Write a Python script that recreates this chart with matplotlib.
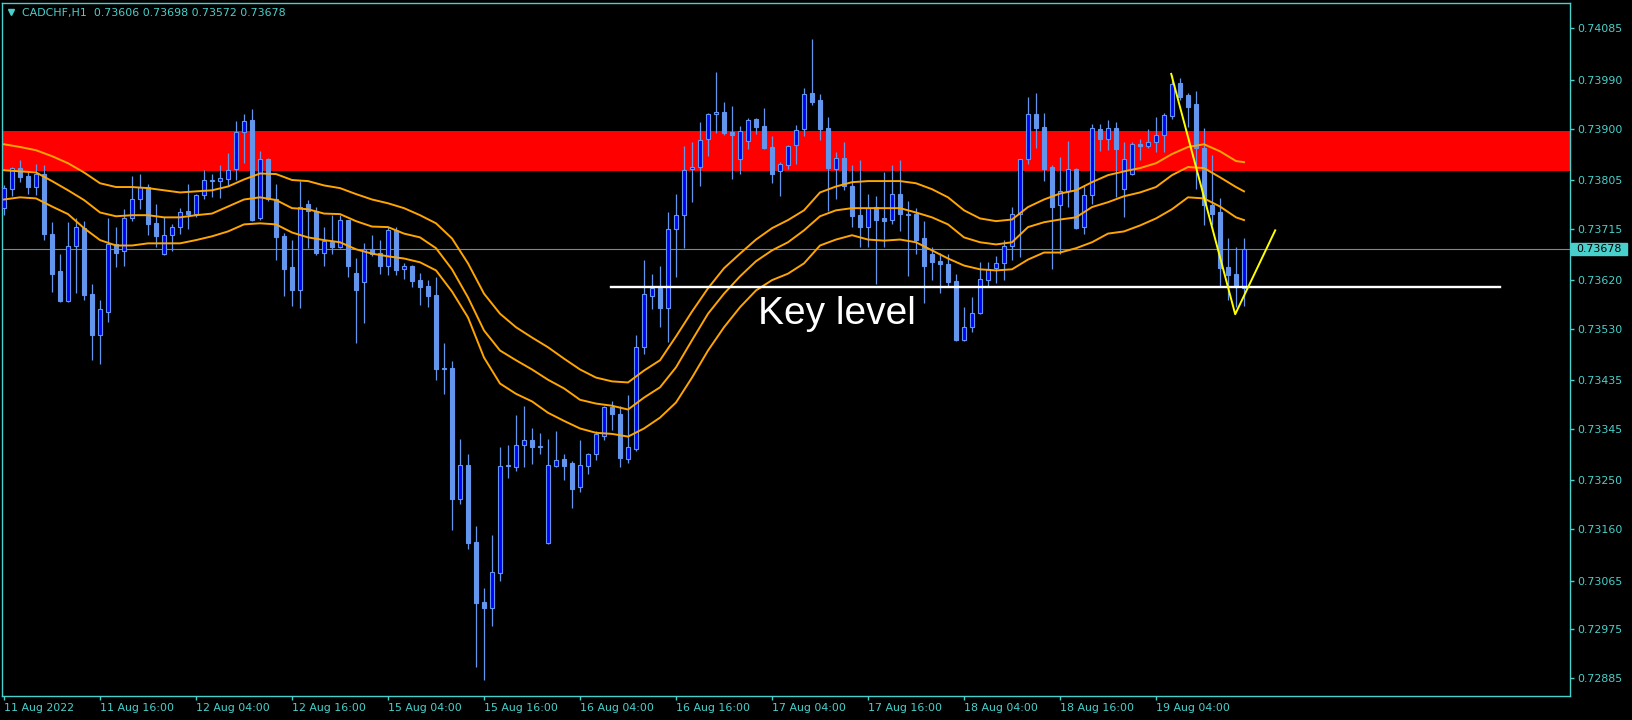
import numpy as np
import matplotlib
matplotlib.use("Agg")
import matplotlib.pyplot as plt
from matplotlib.lines import Line2D
from matplotlib.patches import Rectangle
import matplotlib.transforms as mtransforms

# CADCHF H1, prices in 1e-5 units
opens = np.array([
    73753, 73788, 73827, 73812, 73792, 73816, 73705, 73636, 73581, 73684,
    73716, 73594, 73518, 73562, 73686, 73673, 73734, 73769, 73792, 73725,
    73668, 73703, 73718, 73747, 73742, 73777, 73805, 73803, 73806, 73825,
    73893, 73916, 73734, 73843, 73769, 73701, 73644, 73601, 73760, 73747,
    73671, 73690, 73682, 73731, 73634, 73616, 73677, 73671, 73647, 73712,
    73640, 73647, 73620, 73610, 73592, 73457, 73457, 73216, 73279, 73137,
    73026, 73015, 73079, 73277, 73275, 73316, 73325, 73311, 73135, 73277,
    73290, 73283, 73237, 73277, 73298, 73333, 73386, 73373, 73290, 73309,
    73496, 73590, 73605, 73568, 73714, 73740, 73825, 73829, 73880, 73927,
    73930, 73893, 73843, 73877, 73917, 73904, 73866, 73821, 73832, 73869,
    73899, 73965, 73953, 73901, 73825, 73845, 73793, 73740, 73719, 73756,
    73734, 73732, 73779, 73743, 73742, 73697, 73668, 73655, 73649, 73618,
    73510, 73533, 73560, 73621, 73642, 73651, 73684, 73743, 73843, 73927,
    73903, 73829, 73758, 73784, 73825, 73719, 73777, 73899, 73880, 73901,
    73788, 73816, 73871, 73867, 73875, 73888, 73923, 73984, 73962, 73945,
    73864, 73758, 73745, 73644, 73631, 73606]) * 1e-5

highs = np.array([
    73795, 73829, 73842, 73819, 73834, 73832, 73727, 73669, 73727, 73734,
    73729, 73612, 73584, 73734, 73718, 73751, 73812, 73817, 73797, 73760,
    73736, 73723, 73753, 73797, 73779, 73823, 73816, 73832, 73854, 73914,
    73927, 73936, 73858, 73845, 73797, 73708, 73695, 73803, 73768, 73756,
    73719, 73740, 73740, 73732, 73660, 73688, 73703, 73694, 73719, 73718,
    73651, 73648, 73634, 73620, 73625, 73503, 73470, 73327, 73299, 73166,
    73052, 73150, 73312, 73316, 73370, 73388, 73346, 73338, 73327, 73342,
    73298, 73285, 73325, 73301, 73342, 73387, 73396, 73388, 73407, 73518,
    73658, 73632, 73647, 73745, 73780, 73867, 73875, 73912, 73928, 74004,
    73949, 73941, 73904, 73919, 73919, 73938, 73886, 73838, 73869, 73906,
    73975, 74065, 73964, 73921, 73856, 73875, 73832, 73842, 73780, 73775,
    73819, 73832, 73842, 73766, 73753, 73729, 73682, 73671, 73668, 73631,
    73570, 73588, 73653, 73653, 73664, 73695, 73756, 73844, 73958, 73965,
    73928, 73832, 73847, 73877, 73827, 73795, 73908, 73908, 73916, 73912,
    73875, 73875, 73880, 73899, 73921, 73928, 73999, 73993, 73965, 73969,
    73901, 73851, 73771, 73697, 73682, 73698]) * 1e-5

lows = np.array([
    73740, 73775, 73801, 73779, 73777, 73695, 73599, 73579, 73579, 73597,
    73584, 73473, 73466, 73542, 73645, 73647, 73729, 73751, 73703, 73681,
    73666, 73673, 73706, 73714, 73736, 73769, 73773, 73771, 73793, 73805,
    73836, 73729, 73731, 73767, 73658, 73590, 73573, 73568, 73679, 73666,
    73647, 73668, 73680, 73625, 73503, 73540, 73664, 73632, 73629, 73629,
    73623, 73608, 73575, 73570, 73435, 73409, 73159, 73207, 73124, 72905,
    72881, 72981, 73065, 73255, 73268, 73275, 73281, 73298, 73133, 73274,
    73250, 73200, 73229, 73262, 73288, 73324, 73344, 73275, 73283, 73305,
    73484, 73566, 73534, 73505, 73625, 73679, 73764, 73793, 73849, 73891,
    73888, 73806, 73817, 73862, 73890, 73862, 73799, 73775, 73825, 73834,
    73886, 73943, 73878, 73747, 73769, 73786, 73718, 73681, 73682, 73612,
    73682, 73723, 73710, 73627, 73668, 73577, 73621, 73597, 73607, 73507,
    73507, 73525, 73558, 73610, 73614, 73620, 73658, 73662, 73834, 73864,
    73803, 73640, 73669, 73756, 73714, 73705, 73760, 73858, 73860, 73773,
    73736, 73814, 73842, 73864, 73856, 73856, 73917, 73953, 73903, 73788,
    73721, 73721, 73607, 73584, 73570, 73572]) * 1e-5

closes = np.array([
    73790, 73827, 73810, 73792, 73816, 73706, 73632, 73581, 73684, 73718,
    73592, 73518, 73566, 73686, 73671, 73734, 73769, 73792, 73723, 73701,
    73703, 73718, 73745, 73743, 73777, 73805, 73803, 73808, 73823, 73893,
    73914, 73731, 73843, 73769, 73699, 73640, 73601, 73756, 73747, 73671,
    73692, 73681, 73732, 73647, 73601, 73677, 73669, 73647, 73712, 73638,
    73647, 73618, 73608, 73590, 73455, 73455, 73216, 73279, 73135, 73024,
    73015, 73081, 73277, 73278, 73316, 73325, 73312, 73314, 73279, 73288,
    73277, 73235, 73279, 73299, 73335, 73386, 73372, 73292, 73311, 73496,
    73594, 73605, 73568, 73714, 73740, 73823, 73829, 73878, 73927, 73930,
    73891, 73888, 73895, 73916, 73903, 73864, 73817, 73834, 73867, 73897,
    73964, 73949, 73899, 73827, 73845, 73793, 73738, 73719, 73753, 73732,
    73730, 73779, 73742, 73740, 73695, 73647, 73653, 73649, 73616, 73510,
    73534, 73560, 73623, 73640, 73651, 73684, 73743, 73843, 73927, 73901,
    73825, 73756, 73784, 73825, 73716, 73777, 73901, 73880, 73901, 73862,
    73843, 73871, 73867, 73875, 73888, 73925, 73982, 73958, 73940, 73864,
    73758, 73742, 73642, 73629, 73607, 73678]) * 1e-5

# moving average band read every second bar (last point = last bar)
ma_bars = np.r_[np.arange(0, 156, 2), 155]
ma_upper = np.array([
    73871, 73866, 73860, 73849, 73836, 73819, 73799, 73792, 73792, 73790,
    73786, 73782, 73784, 73786, 73793, 73806, 73817, 73816, 73805, 73803,
    73795, 73790, 73779, 73769, 73762, 73753, 73740, 73725, 73697, 73651,
    73595, 73558, 73533, 73514, 73496, 73475, 73455, 73440, 73433, 73431,
    73453, 73472, 73516, 73562, 73605, 73642, 73669, 73695, 73716, 73731,
    73749, 73782, 73793, 73801, 73803, 73803, 73803, 73799, 73788, 73773,
    73749, 73734, 73729, 73732, 73755, 73769, 73780, 73786, 73801, 73814,
    73821, 73827, 73836, 73853, 73866, 73871, 73858, 73840, 73838]) * 1e-5
ma_mid = np.array([
    73823, 73821, 73819, 73803, 73786, 73768, 73745, 73738, 73740, 73740,
    73736, 73736, 73740, 73743, 73756, 73769, 73773, 73768, 73753, 73751,
    73743, 73742, 73729, 73719, 73718, 73706, 73699, 73679, 73640, 73588,
    73527, 73490, 73472, 73455, 73436, 73420, 73399, 73392, 73388, 73381,
    73403, 73422, 73459, 73509, 73558, 73595, 73627, 73655, 73675, 73690,
    73712, 73738, 73749, 73753, 73753, 73753, 73753, 73745, 73736, 73723,
    73699, 73690, 73686, 73690, 73718, 73727, 73732, 73736, 73755, 73764,
    73775, 73782, 73792, 73814, 73829, 73827, 73810, 73792, 73784]) * 1e-5
ma_lower = np.array([
    73769, 73773, 73771, 73756, 73742, 73716, 73694, 73684, 73684, 73688,
    73688, 73688, 73694, 73701, 73710, 73723, 73725, 73723, 73708, 73699,
    73694, 73690, 73677, 73669, 73664, 73660, 73653, 73638, 73599, 73551,
    73477, 73429, 73410, 73396, 73375, 73360, 73346, 73338, 73336, 73331,
    73346, 73366, 73394, 73440, 73490, 73533, 73570, 73601, 73620, 73632,
    73651, 73684, 73695, 73703, 73695, 73693, 73695, 73690, 73675, 73660,
    73647, 73640, 73638, 73640, 73658, 73671, 73671, 73679, 73690, 73706,
    73710, 73721, 73734, 73751, 73773, 73771, 73756, 73736, 73731]) * 1e-5

zone_low, zone_high = 0.73822, 0.73895
key_level = 0.73607
key_level_bars = [75.9, 187]
zigzag_bars = [145.9, 153.9, 158.9]
zigzag_prices = [0.74001, 0.73557, 0.73712]
last_price = 0.73678

price_ticks = [0.74085, 0.73990, 0.73900, 0.73805, 0.73715, 0.73620, 0.73530,
               0.73435, 0.73345, 0.73250, 0.73160, 0.73065, 0.72975, 0.72885]
time_ticks = [0, 12, 24, 36, 48, 60, 72, 84, 96, 108, 120, 132, 144]
time_labels = ['11 Aug 2022', '11 Aug 16:00', '12 Aug 04:00', '12 Aug 16:00',
               '15 Aug 04:00', '15 Aug 16:00', '16 Aug 04:00', '16 Aug 16:00',
               '17 Aug 04:00', '17 Aug 16:00', '18 Aug 04:00', '18 Aug 16:00',
               '19 Aug 04:00']

fg = '#48D1CC'
wick_col = '#6495ED'
bull_col = '#0000FF'

fig = plt.figure(figsize=(16.33, 7.2), dpi=100, facecolor='black')
ax = fig.add_axes([2.5 / 1633, 1 - 696 / 720, (1570 - 2.5) / 1633, (696 - 2.5) / 720])
ax.set_facecolor('black')

x = np.arange(len(opens))

# resistance zone and current price line
ax.axhspan(zone_low, zone_high, color='#FF0000', lw=0, zorder=0.5)
ax.axhline(last_price, color='#778899', lw=0.8, zorder=1)

# candles
ax.vlines(x, lows, highs, color=wick_col, lw=0.9, zorder=2)
bull = closes >= opens
body_bot = np.minimum(opens, closes)
body_h = np.abs(closes - opens)
ax.bar(x[bull], body_h[bull], bottom=body_bot[bull], width=0.55,
       color=bull_col, edgecolor=wick_col, lw=0.8, zorder=3)
ax.bar(x[~bull], body_h[~bull], bottom=body_bot[~bull], width=0.55,
       color=wick_col, edgecolor=wick_col, lw=0.8, zorder=3)

# moving average band
for line in (ma_upper, ma_mid, ma_lower):
    ax.plot(ma_bars, line, color='#FFA500', lw=1.4, zorder=4)

# annotations
ax.plot(key_level_bars, [key_level, key_level], color='white', lw=1.7, zorder=5)
ax.text(94.25, 0.73539, 'Key level', color='white', fontsize=28,
        family='Liberation Sans', ha='left', va='baseline', zorder=6)
ax.plot(zigzag_bars, zigzag_prices, color='#FFFF00', lw=1.4, zorder=5)

ax.set_xlim(-0.19, 195.75)
ax.set_ylim(0.728518, 0.741329)

for s in ax.spines.values():
    s.set_color(fg)
    s.set_linewidth(1.0)

ax.yaxis.tick_right()
ax.set_yticks(price_ticks)
ax.set_yticklabels([f'{p:.5f}' for p in price_ticks])
ax.set_xticks(time_ticks)
ax.set_xticklabels(time_labels, ha='left')
ax.tick_params(axis='both', colors=fg, labelsize=7.9, length=3, width=1)
ax.tick_params(axis='y', pad=2)
ax.tick_params(axis='x', pad=2)

# last price box on the price scale
trans = mtransforms.blended_transform_factory(ax.transAxes, ax.transData)
box_h = 12.3 * (0.741329 - 0.728518) / 693.5
ax.add_patch(Rectangle((1.0007, last_price - box_h / 2), 56 / 1567.5, box_h,
                       transform=trans, color=fg, clip_on=False, zorder=7))
ax.text(1.0007 + 28 / 1567.5, last_price, f'{last_price:.5f}', transform=trans,
        color='black', fontsize=7.9, ha='center', va='center', zorder=8)

# header
fig.add_artist(Line2D([11 / 1633], [1 - 11.5 / 720], marker='v', markersize=5,
                      color=fg, transform=fig.transFigure))
fig.text(21.7 / 1633, 1 - 12.7 / 720,
         'CADCHF,H1  0.73606 0.73698 0.73572 0.73678',
         color=fg, fontsize=7.9, ha='left', va='center')

fig.savefig('out.png', dpi=100, facecolor='black')
